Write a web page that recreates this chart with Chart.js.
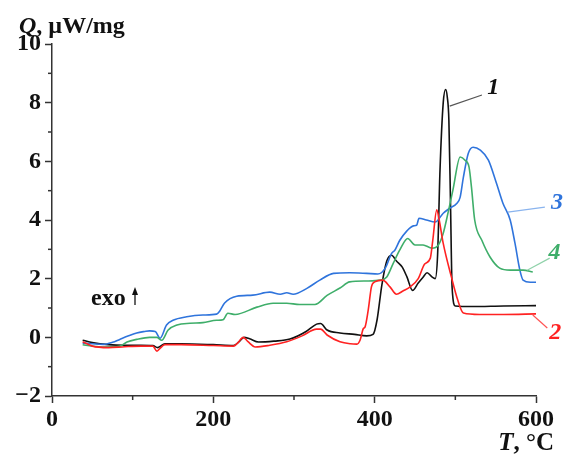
<!DOCTYPE html>
<html>
<head>
<meta charset="utf-8">
<script src="https://cdn.jsdelivr.net/npm/chart.js@4.4.1/dist/chart.umd.min.js"></script>
<style>
  html, body { margin: 0; padding: 0; background: #fff; }
  #wrap { width: 566px; height: 454px; }
</style>
</head>
<body>
<div id="wrap"><canvas id="myChart" width="566" height="454"></canvas></div>
<script>
// curve 1 (black)
const t1 = [38, 50, 70, 90, 110, 125, 131, 140, 160, 200, 225, 232, 238, 245, 256, 275, 295, 315, 328, 333, 341, 357, 375, 390, 398, 403, 409, 415, 421, 427, 434, 440, 447, 454, 460, 465, 471, 475, 478, 481, 485, 488, 490, 492, 494, 496, 500, 520, 560, 600];
const q1 = [-0.1, -0.18, -0.25, -0.27, -0.27, -0.28, -0.35, -0.22, -0.22, -0.25, -0.28, -0.15, 0.0, -0.05, -0.16, -0.13, -0.06, 0.2, 0.45, 0.47, 0.25, 0.15, 0.1, 0.05, 0.1, 0.6, 1.8, 2.6, 2.8, 2.6, 2.4, 2.06, 1.6, 1.85, 2.05, 2.2, 2.06, 2.0, 2.8, 5.7, 8.0, 8.45, 8.2, 7.4, 4.6, 1.7, 1.07, 1.05, 1.07, 1.08];
// curve 2 (red)
const t2 = [38, 50, 70, 90, 110, 125, 130, 133, 140, 160, 200, 225, 230, 237, 243, 252, 270, 291, 310, 328, 333, 341, 357, 370, 378, 382, 386, 388, 392, 396, 400, 410, 419, 427, 435, 444, 454, 462, 469, 472, 477, 480, 485, 495, 503, 510, 530, 560, 600];
const q2 = [-0.15, -0.3, -0.35, -0.32, -0.3, -0.3, -0.47, -0.4, -0.25, -0.25, -0.28, -0.3, -0.2, 0.0, -0.15, -0.33, -0.27, -0.15, 0.05, 0.28, 0.28, 0.08, -0.15, -0.22, -0.23, -0.09, 0.3, 0.35, 0.93, 1.72, 1.89, 1.95, 1.72, 1.47, 1.58, 1.72, 2.0, 2.5, 2.7, 3.3, 4.35, 4.0, 3.2, 2.07, 1.27, 0.83, 0.78, 0.78, 0.8];
// curve 3 (blue)
const t3 = [38, 50, 63, 75, 84, 95, 105, 115, 121, 128, 134, 142, 150, 167, 187, 204, 208, 214, 229, 249, 270, 283, 291, 299, 316, 332, 349, 369, 390, 404, 413, 421, 425, 431, 440, 448, 452, 455, 464, 475, 485, 493, 502, 506, 510, 516, 522, 531, 541, 551, 559, 568, 574, 580, 584, 593, 600];
const q3 = [-0.2, -0.22, -0.24, -0.17, -0.07, 0.05, 0.15, 0.2, 0.22, 0.2, -0.03, 0.42, 0.58, 0.7, 0.76, 0.79, 0.9, 1.17, 1.4, 1.44, 1.54, 1.47, 1.52, 1.47, 1.67, 1.95, 2.18, 2.2, 2.18, 2.16, 2.35, 2.86, 2.97, 3.3, 3.63, 3.8, 3.82, 4.06, 4.0, 3.93, 4.23, 4.4, 4.57, 4.78, 5.46, 6.27, 6.48, 6.38, 6.04, 5.25, 4.57, 4.0, 3.2, 2.29, 1.95, 1.88, 1.88];
// curve 4 (green)
const t4 = [38, 50, 63, 84, 93, 105, 121, 130, 136, 144, 155, 171, 187, 204, 212, 218, 227, 254, 274, 291, 307, 326, 341, 357, 369, 390, 407, 415, 423, 431, 441, 450, 460, 471, 479, 485, 491, 497, 506, 512, 517, 520, 524, 533, 543, 555, 568, 584, 596];
const q4 = [-0.25, -0.3, -0.33, -0.3, -0.16, -0.07, 0.0, 0.0, -0.1, 0.25, 0.42, 0.48, 0.5, 0.58, 0.6, 0.82, 0.78, 1.03, 1.16, 1.16, 1.12, 1.12, 1.43, 1.68, 1.89, 1.92, 1.95, 2.06, 2.52, 2.97, 3.37, 3.15, 3.15, 3.04, 3.15, 3.55, 4.25, 5.02, 6.15, 6.04, 5.8, 5.12, 4.0, 3.3, 2.74, 2.36, 2.29, 2.29, 2.23];

const xTicks = [0, 200, 400, 600];
const yTicks = [-2, 0, 2, 4, 6, 8, 10];
const curveNames = ['1', '2', '3', '4'];

const SERIF = '"Liberation Serif", "DejaVu Serif", serif';
const colors = ['#111111', '#ff2222', '#2f74dc', '#3fae6a'];
const leaderColors = ['#555555', '#ff5555', '#8ab4ee', '#90d2aa'];

// callout labels: [line start T,Q], [line end T,Q], [text T,Q]
const callouts = [
  [[493, 7.88], [533, 8.26], [547, 8.5]],
  [[596, 0.76], [614, 0.32], [624, 0.15]],
  [[565, 4.27], [611, 4.44], [626, 4.58]],
  [[589, 2.29], [617, 2.7], [623, 2.87]]
];

function pts(ts, qs) {
  return ts.map((t, i) => ({ x: t, y: qs[i] }));
}

const extras = {
  id: 'extras',
  afterDraw(chart) {
    const c = chart.ctx, xs = chart.scales.x, ys = chart.scales.y;
    const area = chart.chartArea;
    c.save();
    // minor ticks
    c.strokeStyle = '#333';
    c.lineWidth = 1.5;
    [100, 300, 500].forEach(v => {
      const px = xs.getPixelForValue(v);
      c.beginPath(); c.moveTo(px, area.bottom); c.lineTo(px, area.bottom + 4); c.stroke();
    });
    [-1, 1, 3, 5, 7, 9].forEach(v => {
      const py = ys.getPixelForValue(v);
      c.beginPath(); c.moveTo(area.left, py); c.lineTo(area.left - 4, py); c.stroke();
    });

    // axis titles
    c.fillStyle = '#111';
    c.textBaseline = 'alphabetic';
    c.textAlign = 'left';
    c.font = 'italic bold 24px ' + SERIF;
    c.fillText('Q', 19, 33);
    let w = c.measureText('Q').width;
    c.font = 'bold 24px ' + SERIF;
    c.fillText(', \u00b5W/mg', 19 + w, 33);

    c.font = 'italic bold 25px ' + SERIF;
    const tW = c.measureText('T').width;
    c.font = 'bold 25px ' + SERIF;
    const rest = ', \u00b0C';
    const rW = c.measureText(rest).width;
    const xEnd = 554;
    c.font = 'italic bold 25px ' + SERIF;
    c.fillText('T', xEnd - rW - tW, 450);
    c.font = 'bold 25px ' + SERIF;
    c.fillText(rest, xEnd - rW, 450);

    // exo arrow
    c.font = 'bold 24px ' + SERIF;
    c.fillText('exo', 91, 305);
    c.beginPath(); c.moveTo(135, 305); c.lineTo(135, 292); c.stroke();
    c.beginPath(); c.moveTo(132, 295); c.lineTo(135, 287); c.lineTo(138, 295); c.closePath(); c.fill();

    // callout labels
    callouts.forEach((cl, i) => {
      c.strokeStyle = leaderColors[i];
      c.lineWidth = 1.2;
      c.beginPath();
      c.moveTo(xs.getPixelForValue(cl[0][0]), ys.getPixelForValue(cl[0][1]));
      c.lineTo(xs.getPixelForValue(cl[1][0]), ys.getPixelForValue(cl[1][1]));
      c.stroke();
      c.fillStyle = colors[i];
      c.font = 'italic bold 24px ' + SERIF;
      c.textAlign = 'center';
      c.textBaseline = 'middle';
      c.fillText(curveNames[i], xs.getPixelForValue(cl[2][0]), ys.getPixelForValue(cl[2][1]));
    });
    c.restore();
  }
};

const tickFont = { family: SERIF, size: 24, weight: 'bold' };

const ctx = document.getElementById('myChart').getContext('2d');
const myChart = new Chart(ctx, {
  type: 'line',
  data: {
    datasets: [
      { label: curveNames[1], data: pts(t2, q2), borderColor: colors[1] },
      { label: curveNames[3], data: pts(t4, q4), borderColor: colors[3] },
      { label: curveNames[2], data: pts(t3, q3), borderColor: colors[2] },
      { label: curveNames[0], data: pts(t1, q1), borderColor: colors[0] }
    ]
  },
  options: {
    responsive: false,
    animation: false,
    elements: {
      point: { radius: 0 },
      line: { borderWidth: 1.6, cubicInterpolationMode: 'monotone', fill: false }
    },
    layout: { padding: { left: 0, top: 44, right: 30, bottom: 0 } },
    scales: {
      x: {
        type: 'linear', min: 0, max: 600,
        afterBuildTicks: s => { s.ticks = xTicks.map(v => ({ value: v })); },
        ticks: { font: tickFont, color: '#111', padding: 2, maxRotation: 0 },
        grid: { drawOnChartArea: false, tickLength: 7, tickColor: '#333', tickWidth: 1.5 },
        border: { color: '#333', width: 1.5 },
        afterFit: s => { s.height = 58; }
      },
      y: {
        type: 'linear', min: -2, max: 10,
        afterBuildTicks: s => { s.ticks = yTicks.map(v => ({ value: v })); },
        ticks: { font: tickFont, color: '#111', padding: 4, callback: v => String(v).replace('-', '\u2212') },
        grid: { drawOnChartArea: false, tickLength: 7, tickColor: '#333', tickWidth: 1.5 },
        border: { color: '#333', width: 1.5 },
        afterFit: s => { s.width = 52; }
      }
    },
    plugins: { legend: { display: false }, tooltip: { enabled: false } }
  },
  plugins: [extras]
});
</script>
</body>
</html>
